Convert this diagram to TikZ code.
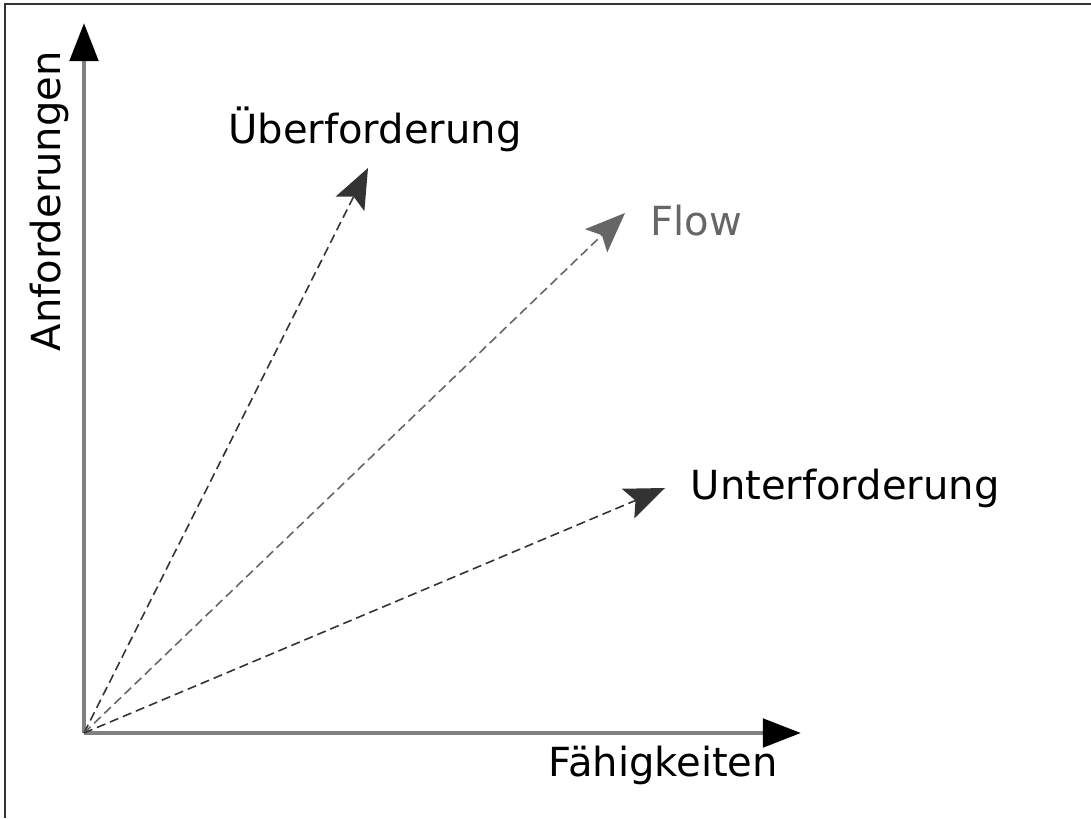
\documentclass[tikz,border=0pt]{standalone}
\usepackage{fontspec}
\setmainfont{DejaVu Sans}
\usetikzlibrary{arrows.meta,positioning}
\tikzset{
  axis/.style={draw=black!50, line width=1.4pt, -{Triangle[length=0.38cm, width=0.28cm, black]}},
  dashvec/.style={line width=0.45pt, dash pattern=on 2.6pt off 1.4pt, -{Stealth[length=0.4cm, width=0.32cm, inset=0.08cm]}},
  lbl/.style={inner sep=0pt, font=\fontsize{11.4}{13}\selectfont},
}
\begin{document}
\begin{tikzpicture}[x=0.01cm, y=-0.01cm]
\useasboundingbox (0,0) rectangle (1091,818);

% Frame
\draw[black!80, line width=0.45pt] (5,818) -- (5,4) -- (1091,4);

% Axes
\coordinate (origin) at (84,733);
\coordinate (ytip) at (84,23);
\coordinate (xtip) at (801,733);
\draw[axis] (origin) -- (ytip);
\draw[axis] (origin) -- (xtip);
\node[lbl, anchor=base west, rotate=90] (ylab) at (60,352) {Anforderungen};
\node[lbl, anchor=base west] (xlab) at (548,776) {Fähigkeiten};

% Vectors
\coordinate (over) at (368,168);
\coordinate (flow) at (625,213);
\coordinate (under) at (665,488);
\draw[dashvec, black!80] (origin) -- (over);
\draw[dashvec, black!60] (origin) -- (flow);
\draw[dashvec, black!80] (origin) -- (under);
\node[lbl, anchor=base] (overlab) at (375,143) {Überforderung};
\node[lbl, anchor=base west, text=black!60] (flowlab) at (650,235) {Flow};
\node[lbl, anchor=base west] (underlab) at (690,499) {Unterforderung};

\end{tikzpicture}
\end{document}
